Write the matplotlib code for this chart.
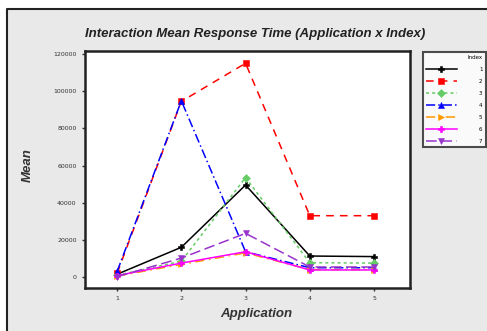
import matplotlib
matplotlib.use('Agg')
import matplotlib.pyplot as plt
from matplotlib.patches import Rectangle
from matplotlib.lines import Line2D

# data
apps = [1, 2, 3, 4, 5]
index_labels = ['1', '2', '3', '4', '5', '6', '7']
idx1 = [1500, 16000, 49500, 11300, 11000]
idx2 = [2000, 94500, 115000, 33000, 33000]
idx3 = [1000, 8500, 53500, 7700, 7500]
idx4 = [3000, 94800, 13600, 5000, 5000]
idx5 = [500, 6800, 13000, 4000, 4000]
idx6 = [800, 7500, 13600, 3800, 3800]
idx7 = [200, 10200, 23500, 5400, 5400]
yticks = [0, 20000, 40000, 60000, 80000, 100000, 120000]

series = [idx1, idx2, idx3, idx4, idx5, idx6, idx7]
colors = ['black', '#ff0000', '#66cc66', '#0000ff', '#ff9900', '#ff00ff', '#9933cc']
styles = ['-', (0, (5, 4)), (0, (2, 2)), (0, (6, 2, 1, 2)), (0, (6, 3, 1, 3)), '-', (0, (7, 3))]
markers = ['P', 's', 'D', '^', '>', 'P', 'v']

fig = plt.figure(figsize=(4.87, 3.31), dpi=100, facecolor='white')
# grey panel with a border only on its top and left side
x0, y0 = 7 / 487, 1 - 9 / 331
fig.patches.append(Rectangle((x0, 0), 1 - x0, y0, transform=fig.transFigure,
                             facecolor='#e9e9e9', edgecolor='none', zorder=-1))
fig.lines.append(Line2D([x0, x0, 1], [0, y0, y0], transform=fig.transFigure,
                        color='#222222', linewidth=1.5))

ax = fig.add_axes([85 / 487, 1 - 288 / 331, 325 / 487, 237 / 331])
ax.set_facecolor('white')

lines = []
for vals, c, ls, m, lab in zip(series, colors, styles, markers, index_labels):
    ln, = ax.plot(apps, vals, color=c, linestyle=ls, linewidth=1.1, marker=m,
                  markersize=4, markeredgewidth=0.4, label=lab)
    lines.append(ln)

ax.set_xlim(0.5, 5.56)
ax.set_ylim(-5900, 121600)
ax.set_xticks(apps)
ax.set_yticks(yticks)
ax.tick_params(labelsize=4.5, length=2.5, width=1, colors='#333333')
for s in ax.spines.values():
    s.set_linewidth(1.8)
    s.set_color('#222222')

fig.text(255 / 487, 1 - 34 / 331, 'Interaction Mean Response Time (Application x Index)',
         ha='center', va='center', fontsize=9.5, fontweight='bold', fontstyle='italic',
         family='Liberation Sans', color='#222222')
fig.text(256 / 487, 1 - 314 / 331, 'Application', ha='center', va='center', fontsize=9.5,
         fontweight='bold', fontstyle='italic', family='Liberation Sans', color='#333333')
fig.text(28 / 487, 1 - 165 / 331, 'Mean', ha='center', va='center', rotation=90, fontsize=9.5,
         fontweight='bold', fontstyle='italic', family='Liberation Sans', color='#333333')

leg = fig.legend(handles=lines, loc='upper left', bbox_to_anchor=(420 / 487, 1 - 49 / 331),
                 fontsize=4, title='Index', title_fontsize=4, frameon=True, fancybox=False,
                 handlelength=5.5, handletextpad=4, labelspacing=1.25, borderpad=0.6,
                 markerscale=1.0, alignment='right')
leg.get_frame().set_edgecolor('#222222')
leg.get_frame().set_linewidth(1.5)

fig.savefig('out.png', dpi=100, facecolor=fig.get_facecolor())
